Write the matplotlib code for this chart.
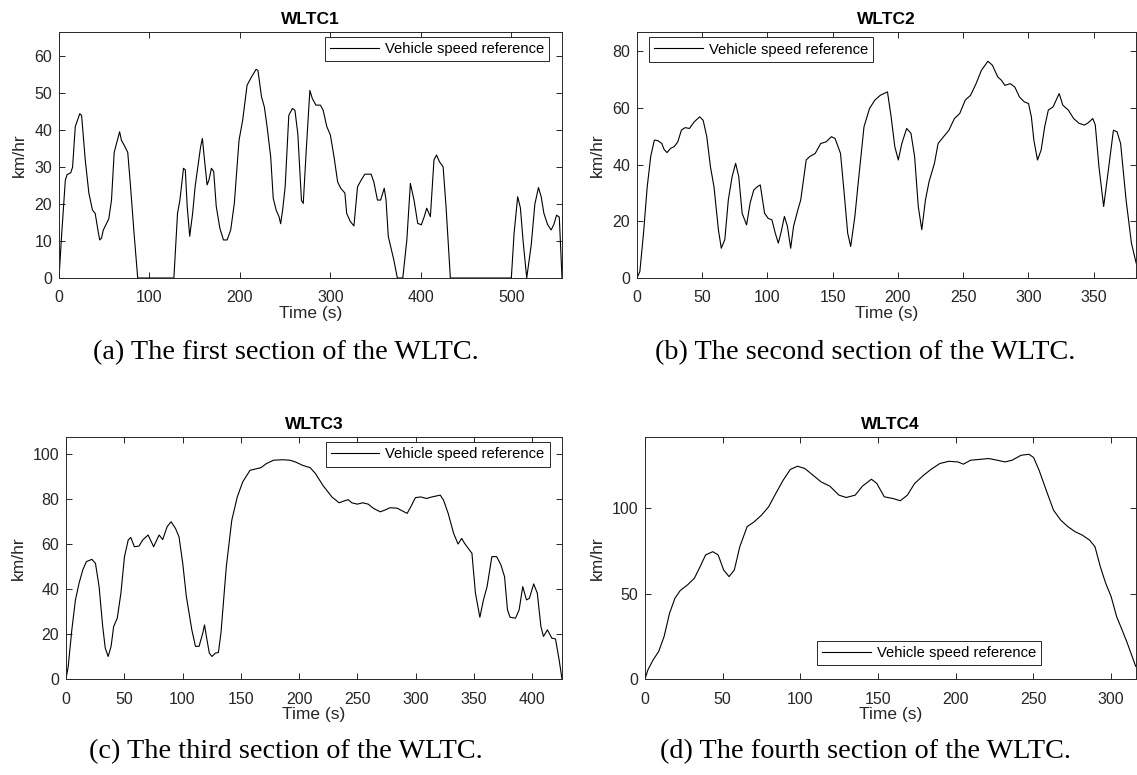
#!/usr/bin/env python3
"""WLTC speed profiles, four sections, MATLAB-like look."""

import matplotlib
matplotlib.use("Agg")
import matplotlib.pyplot as plt

plt.rcParams["font.family"] = ["Liberation Sans", "DejaVu Sans"]

# ---- data (time in s, speed in km/hr) ----
WLTC1_T = [0, 3, 7, 9, 13, 15, 18, 23, 25, 29, 33, 37, 40, 43, 45, 47, 49, 55, 58, 61,
           67, 69, 73, 76, 79, 83, 87, 127, 131, 133.6, 137.6, 139.6, 141.7, 144.5,
           147.7, 150.5, 153.7, 156.5, 158.5, 160.5, 163.7, 165.7, 168.5, 171, 173.8,
           177.8, 181.8, 185.8, 189.8, 193.8, 199, 203, 207.9, 212.7, 217.9, 219.9,
           223.9, 227, 230, 234, 236.8, 240, 243.2, 245, 247.2, 250, 254, 258, 260.8,
           264, 268, 270, 273.3, 277.3, 280, 284, 289, 292, 296, 300, 304, 308, 311.4,
           316, 318, 322, 326, 330, 334, 338, 345, 348, 352, 355.5, 359.5, 361.5, 364,
           370, 374, 380, 384.5, 388.4, 392.5, 396.5, 400.5, 403.7, 406.5, 410.5,
           414.5, 417.3, 420.5, 424.6, 427.8, 432.6, 500, 503, 507, 510, 513, 517,
           522, 526, 530, 533, 536, 540, 544, 547, 550, 553, 556]
WLTC1_V = [0, 12, 26.5, 28, 28.5, 30, 41, 44.5, 44, 32, 23, 18.4, 17.5, 13, 10.3, 10.8,
           13, 16, 21, 34, 39.6, 37.3, 35.5, 34, 25, 12, 0, 0, 17.5, 21, 29.7, 29.3,
           19.4, 11.3, 17.5, 24.8, 30.6, 35.5, 37.8, 32.8, 25.2, 26.5, 29.7, 28.8,
           19.4, 13.5, 10.3, 10.3, 13, 20.2, 37.3, 42.7, 52.2, 54.4, 56.5, 56.2, 49,
           46.3, 41, 32.8, 21.6, 18.4, 16.6, 14.7, 18.4, 24.7, 44, 45.9, 45.4, 39, 21,
           20.2, 34.6, 50.8, 48.6, 46.8, 46.8, 45.4, 41, 38.7, 32.8, 26, 24.3, 23,
           17.5, 15.3, 14.1, 24.7, 26.5, 28.1, 28.1, 26, 21.1, 21.1, 24.3, 21.1, 11.2,
           5, 0, 0, 10.3, 25.6, 21, 14.8, 14.4, 16.6, 18.9, 16.6, 32, 33.3, 31.5, 30.1,
           19.4, 0, 0, 12, 22, 19, 10, 0, 9, 20, 24.5, 22, 17.5, 14.5, 13, 14.5, 17,
           16.5, 0]

WLTC2_T = [0, 2.2, 5, 7.8, 10.5, 13.3, 16, 19, 20.8, 23, 25.8, 28.5, 31.3, 34, 36.9,
           40.2, 43.8, 48, 50.7, 53.5, 56.3, 59, 62.4, 64.6, 67.3, 70, 72.9, 75.6, 78,
           80.6, 84, 86.7, 89.5, 92.3, 94.5, 97.8, 100.6, 103.4, 106, 108.3, 110.3,
           113, 115.3, 117.8, 120, 123.3, 125.5, 129.7, 132.4, 136.6, 140.8, 145, 149,
           151.8, 156, 158.8, 161.5, 163.8, 167, 169.8, 174, 178.2, 182.3, 186.5,
           189.2, 192, 194.8, 197.6, 200.3, 203, 206.7, 210, 212.8, 215.6, 218.3,
           221.1, 223.9, 228, 230.8, 235, 239.1, 243.3, 247.4, 251.6, 255.7, 259.9,
           264, 269, 272.4, 276.5, 279.3, 282, 286.2, 289.6, 293.2, 296.8, 300.1,
           302.3, 304.2, 307, 309.8, 312.5, 315.3, 318.9, 323.6, 326.4, 330.6, 334.7,
           338.9, 343, 345.8, 349.4, 351.3, 354.1, 357.7, 361, 365.2, 368, 370.7,
           374.9, 379, 382.6]
WLTC2_V = [0, 2.3, 15.8, 32, 42.8, 48.6, 48.4, 47.4, 45.3, 44.2, 45.7, 46.3, 48, 52.1,
           53, 52.7, 55, 56.8, 55.6, 49.8, 39.2, 32.2, 17, 10.5, 13.5, 27.5, 35.7, 40.4,
           35.7, 22.8, 18.7, 26.4, 31, 32.2, 32.8, 22.8, 21, 20.5, 15.8, 12.3, 15.8,
           21.7, 18.2, 10.5, 18.2, 24, 27.5, 41.6, 42.8, 43.9, 47.4, 48, 49.8, 49.2,
           43.9, 29.9, 15.8, 11.1, 21.7, 34.6, 53.3, 59.7, 62.7, 64.4, 65, 65.6, 56.8,
           46.3, 41.6, 47.4, 52.7, 51, 42.8, 25.2, 17, 27.5, 34, 40.4, 47.4, 49.8,
           52.1, 56.2, 58, 62.7, 64.4, 68.5, 73.2, 76.4, 75, 70.9, 69.7, 67.9, 68.5,
           67.3, 63.8, 62.1, 61.5, 56.8, 48.6, 41.6, 45.1, 53.3, 59.2, 60.3, 65, 60.9,
           59.2, 56.2, 54.5, 53.9, 54.7, 56.2, 53.9, 39.2, 25.2, 36.9, 52.1, 51.5,
           47.4, 27.5, 12.3, 5.3]

WLTC3_T = [0, 1.9, 5, 8.1, 11.2, 14.4, 17.5, 22.2, 25.3, 28.4, 31.5, 33.7, 36.2, 38.7,
           40.9, 44, 47.1, 50.2, 53.4, 55.6, 58.7, 62.7, 65.8, 70.5, 75.2, 79.9, 83,
           86.8, 90.2, 94, 97, 100.2, 103.3, 108, 111.1, 114.2, 117.4, 118.9, 120.5,
           123, 125.2, 128.3, 130.8, 133, 137.6, 142.3, 147, 151.7, 157.9, 162.6,
           167.3, 172, 178.2, 186, 192.3, 197, 203.2, 209.5, 214.1, 220.4, 228.2,
           234.4, 237.5, 242.2, 245.3, 250, 254.7, 259.4, 264, 269.7, 273.4, 278.1,
           284.3, 289, 292.8, 295.9, 299.9, 304.6, 309.3, 314, 321.2, 324, 328, 332.7,
           336.5, 339.6, 342.1, 345.2, 348.4, 351.4, 355.2, 358.3, 361.4, 365.5,
           369.6, 373.3, 376.4, 378.9, 381.1, 385.8, 388.9, 392, 395.2, 397.7, 401.4,
           404.5, 407.6, 409.8, 413.2, 417, 420.1, 423.2, 425.7]
WLTC3_V = [0, 5.6, 21.8, 35.1, 42.5, 48.4, 52.1, 53.1, 51.3, 41, 23.3, 13.7, 10, 14.5,
           23.3, 27, 38, 54.3, 61.7, 62.8, 58.7, 59, 61.7, 63.9, 58.7, 63.9, 61.9,
           67.6, 69.8, 66.8, 63.1, 51.3, 36.6, 21.8, 14.5, 14.5, 20.4, 24, 18.9, 11.5,
           10, 11.5, 11.8, 20.4, 49.9, 70.5, 80.8, 87.5, 92.6, 93.2, 93.8, 95.6, 97.1,
           97.3, 97.1, 96.3, 94.8, 93.8, 91.2, 86, 80.8, 78.2, 78.8, 79.6, 78.2, 77.6,
           78.2, 77.6, 75.7, 74.2, 74.9, 76, 75.8, 74.5, 73.5, 76.4, 80.5, 80.8, 80.1,
           80.8, 81.6, 79.4, 73.5, 64.6, 59.9, 62.4, 60.2, 58, 55.8, 38.1, 27.4, 35.1,
           41, 54.3, 54.3, 50.6, 45.4, 30.7, 27.4, 27, 30.7, 41, 35.1, 35.8, 42.2,
           38.1, 23.3, 18.9, 21.8, 18.1, 17.8, 8.6, 0]

WLTC4_T = [0, 1.9, 5.3, 8.8, 12.3, 15.8, 19.3, 22.7, 27.4, 31.8, 35.5, 39, 43.6, 47.1,
           50.6, 54.1, 57.5, 61, 65.7, 70.3, 75, 79.6, 84.2, 88.9, 93.5, 98.1, 102.8,
           107.4, 113.2, 119, 124.8, 129.5, 135.3, 139.9, 145.7, 149.2, 154, 159.6,
           164.3, 168.9, 173.5, 179.4, 184, 189.8, 195.6, 201.4, 204.9, 209.5, 216.5,
           221.1, 226.9, 231.6, 236.2, 242, 247.1, 250.1, 253.6, 258.2, 262.9, 267.5,
           272.2, 276.8, 281.4, 286.1, 289.6, 293, 296.5, 300, 303.5, 307, 310.4,
           313.5, 315.8]
WLTC4_V = [0, 5.4, 11.3, 16.1, 24.9, 38.5, 47.3, 51.8, 55.1, 59, 65.8, 72.6, 74.5,
           72.6, 63.8, 59.9, 63.8, 77.4, 89.1, 92, 95.9, 100.8, 108.6, 116.3, 122.6,
           124.5, 123.2, 119.8, 115.4, 112.8, 107.6, 106.2, 107.6, 112.8, 116.9, 114.4,
           106.6, 105.6, 104.3, 107.6, 114.4, 119.3, 122.6, 126.1, 127.4, 127, 125.7,
           128, 128.6, 129, 128, 127, 128, 130.9, 131.5, 129.6, 122.2, 110.5, 98.8, 93,
           89.1, 86.2, 84.2, 81.3, 77.4, 65.8, 56, 48.2, 36.6, 28.8, 21, 13.2, 7.4]

TITLES = ["WLTC1", "WLTC2", "WLTC3", "WLTC4"]
CAPTIONS = [
    "(a) The first section of the WLTC.",
    "(b) The second section of the WLTC.",
    "(c) The third section of the WLTC.",
    "(d) The fourth section of the WLTC.",
]
XLIMS = [556, 382.5, 425.7, 316]
YLIMS = [66.6, 86.7, 107.4, 141.6]
XSTEPS = [100, 50, 50, 50]
YSTEPS = [10, 20, 20, 50]

W, H = 1137, 775
# axes boxes in pixels: left, top, right, bottom
BOXES = [(59, 32, 562, 278), (637, 32, 1136, 278),
         (66, 437, 562, 679), (645, 437, 1136, 679)]
LEGENDS = [("upper right", (0.974, 0.981)), ("upper left", (0.024, 0.978)),
           ("upper right", (0.975, 0.978)), ("lower left", (0.351, 0.056))]
CAPTION_POS = [(286, 353), (865, 353), (286, 752), (865, 752)]
INK = "#262626"


def main():
    fig = plt.figure(figsize=(W / 100, H / 100), dpi=100)
    series = [(WLTC1_T, WLTC1_V), (WLTC2_T, WLTC2_V),
              (WLTC3_T, WLTC3_V), (WLTC4_T, WLTC4_V)]
    for i, (t, v) in enumerate(series):
        l, tp, r, b = BOXES[i]
        ax = fig.add_axes([l / W, 1 - b / H, (r - l) / W, (b - tp) / H])
        ax.plot(t, v, color="black", linewidth=0.8, label="Vehicle speed reference")
        ax.set_xlim(0, XLIMS[i])
        ax.set_ylim(0, YLIMS[i])
        xs = XSTEPS[i]
        ax.set_xticks([k * xs for k in range(int(XLIMS[i] // xs) + 1)])
        ys = YSTEPS[i]
        ax.set_yticks([k * ys for k in range(int(YLIMS[i] // ys) + 1)])
        ax.tick_params(direction="in", top=True, right=True, length=4.2, width=0.7,
                       labelsize=11.5, colors=INK)
        ax.tick_params(axis="x", pad=9)
        ax.tick_params(axis="y", pad=5)
        for sp in ax.spines.values():
            sp.set_color(INK)
            sp.set_linewidth(0.7)
        ax.set_title(TITLES[i], fontsize=12.5, fontweight="bold", pad=5.5)
        ax.set_xlabel("Time (s)", fontsize=12.5, labelpad=0.5, color=INK)
        ax.set_ylabel("km/hr", fontsize=12.5, labelpad=5, color=INK)
        loc, anchor = LEGENDS[i]
        leg = ax.legend(loc=loc, bbox_to_anchor=anchor, fontsize=10.6, fancybox=False,
                        framealpha=1, edgecolor=INK, handlelength=3.3,
                        borderpad=0.35, borderaxespad=0, handletextpad=0.4)
        leg.get_frame().set_linewidth(0.7)
        cx, cy = CAPTION_POS[i]
        fig.text(cx / W, 1 - cy / H, CAPTIONS[i], ha="center", va="center",
                 fontsize=20.3, family=["Liberation Serif", "DejaVu Serif"])
    fig.savefig("out.png", dpi=100)
    plt.close(fig)


if __name__ == "__main__":
    main()
